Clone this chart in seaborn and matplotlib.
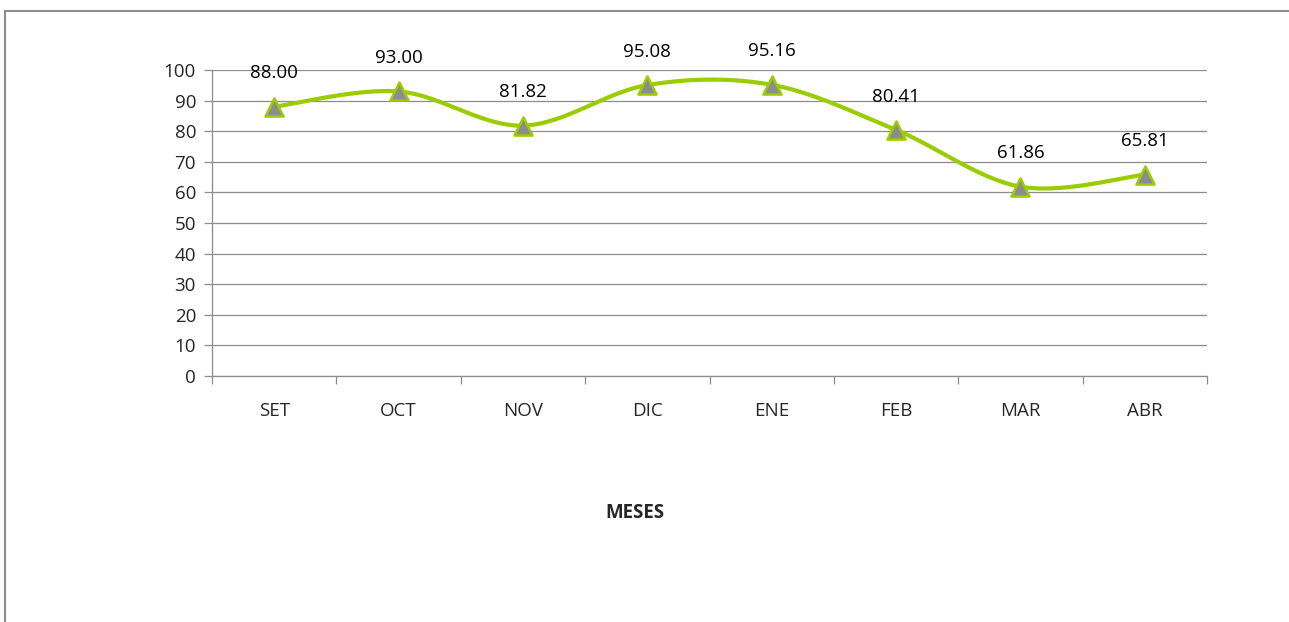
import matplotlib
matplotlib.use("Agg")
import matplotlib.pyplot as plt
import seaborn as sb
import numpy as np
import pandas as pd

meses = ['SET', 'OCT', 'NOV', 'DIC', 'ENE', 'FEB', 'MAR', 'ABR']
valores = [88.00, 93.00, 81.82, 95.08, 95.16, 80.41, 61.86, 65.81]
etiquetas = ['88.00', '93.00', '81.82', '95.08', '95.16', '80.41', '61.86', '65.81']
yticks = list(range(0, 101, 10))

verde = '#9ACD00'
gris = '#8C8C8C'


def suavizar(y, n=40):
    # curva tipo Catmull-Rom, como el "suavizado" de Excel
    y = np.asarray(y, dtype=float)
    x = np.arange(len(y), dtype=float)
    px = np.concatenate([[x[0]], x, [x[-1]]])
    py = np.concatenate([[y[0]], y, [y[-1]]])
    xs, ys = [], []
    for i in range(1, len(px) - 2):
        t = np.linspace(0, 1, n)
        for arr, out in ((px, xs), (py, ys)):
            p0, p1, p2, p3 = arr[i - 1], arr[i], arr[i + 1], arr[i + 2]
            out.extend(0.5 * ((2 * p1) + (-p0 + p2) * t
                              + (2 * p0 - 5 * p1 + 4 * p2 - p3) * t ** 2
                              + (-p0 + 3 * p1 - 3 * p2 + p3) * t ** 3))
    return np.array(xs), np.array(ys)


sb.set_theme(style="white")
plt.rcParams['font.family'] = ['Open Sans', 'DejaVu Sans']

fig = plt.figure(figsize=(12.89, 6.22), dpi=100)
ax = fig.add_axes([212 / 1289, 1 - 376 / 622, (1207 - 212) / 1289, (376 - 70) / 622])

xs, ys = suavizar(valores)
curva = pd.DataFrame({'x': xs, 'y': ys})
sb.lineplot(data=curva, x='x', y='y', ax=ax, color=verde, linewidth=3, sort=False, zorder=3)

df = pd.DataFrame({'mes': np.arange(len(meses)), 'valor': valores})
sb.scatterplot(data=df, x='mes', y='valor', ax=ax, marker='^', s=170,
               color=gris, edgecolor=verde, linewidth=1.8, zorder=4)

for i, (v, t) in enumerate(zip(valores, etiquetas)):
    ax.annotate(t, (i, v), xytext=(0, 24), textcoords='offset points',
                ha='center', va='center', fontsize=13.5, color='black')

ax.set_xlim(-0.5, len(meses) - 0.5)
ax.set_ylim(0, 100)
ax.set_yticks(yticks)
ax.set_yticklabels([str(v) for v in yticks], fontsize=13.5)
ax.yaxis.grid(True, color='#8C8C8C', linewidth=0.9)
ax.set_axisbelow(True)

ax.set_xticks(np.arange(-0.5, len(meses), 1.0))
ax.set_xticklabels([])
ax.set_xticks(np.arange(len(meses)), minor=True)
ax.set_xticklabels(meses, minor=True, fontsize=13.5)
ax.tick_params(axis='x', which='major', length=6, width=0.9, color='#8C8C8C', direction='out', bottom=True)
ax.tick_params(axis='x', which='minor', length=0, pad=19)
ax.tick_params(axis='y', length=6, width=0.9, color='#8C8C8C', direction='out', left=True, pad=5.5)

for lado in ['top', 'right']:
    ax.spines[lado].set_visible(False)
for lado in ['left', 'bottom']:
    ax.spines[lado].set_color('#8C8C8C')
    ax.spines[lado].set_linewidth(0.9)
ax.set_xlabel('')
ax.set_ylabel('')

fig.text(635 / 1289, 1 - 513 / 622, 'MESES', ha='center', va='center', fontsize=13.5, fontweight='bold')

# marco de la figura (solo arriba e izquierda)
fig.add_artist(plt.Line2D([4.5 / 1289, 4.5 / 1289], [0, 1 - 10.5 / 622], color='#8C8C8C', linewidth=1.5))
fig.add_artist(plt.Line2D([4.5 / 1289, 1], [1 - 10.5 / 622, 1 - 10.5 / 622], color='#8C8C8C', linewidth=1.5))

fig.savefig('out.png', dpi=100)
